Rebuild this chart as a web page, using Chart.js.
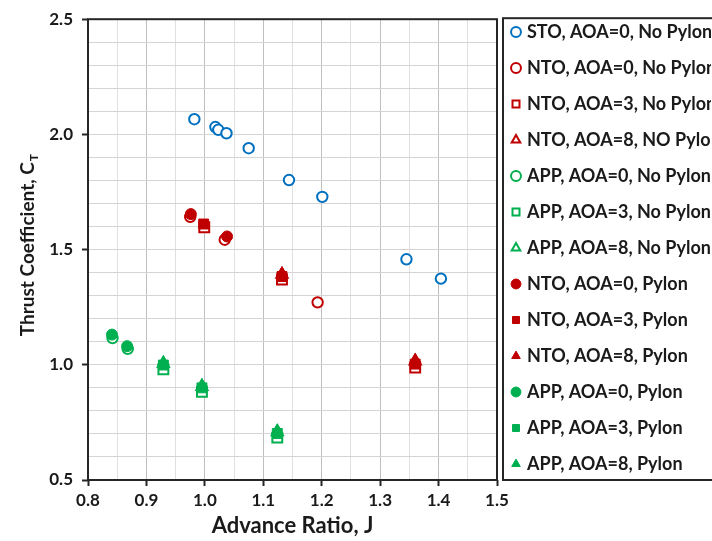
<!DOCTYPE html>
<html>
<head>
<meta charset="utf-8">
<script src="https://cdn.jsdelivr.net/npm/chart.js@4.4.1/dist/chart.umd.min.js"></script>
<style>
  html, body { margin: 0; padding: 0; background: #fff; overflow: hidden; }
  #wrap { width: 712px; height: 541px; position: relative; }
</style>
</head>
<body>
<div id="wrap"><canvas id="ct"></canvas></div>
<script>
// advance ratio J / thrust coefficient CT for each test condition
const stoJ = [0.982, 1.018, 1.023, 1.037, 1.075, 1.144, 1.201, 1.345, 1.404];
const stoCT = [2.066, 2.032, 2.020, 2.005, 1.940, 1.802, 1.729, 1.458, 1.374];

const ntoA0J = [0.975, 1.034, 1.193];
const ntoA0CT = [1.642, 1.543, 1.271];
const ntoA3J = [0.999, 1.132, 1.360];
const ntoA3CT = [1.597, 1.370, 0.988];
const ntoA8J = [1.132, 1.360];
const ntoA8CT = [1.392, 1.015];

const appA0J = [0.842, 0.868];
const appA0CT = [1.116, 1.069];
const appA3J = [0.929, 0.995, 1.124];
const appA3CT = [0.981, 0.883, 0.684];
const appA8J = [0.929, 0.995, 1.124];
const appA8CT = [1.005, 0.905, 0.708];

const ntoA0PJ = [0.976, 1.038];
const ntoA0PCT = [1.654, 1.557];
const ntoA3PJ = [0.998, 1.132, 1.360];
const ntoA3PCT = [1.611, 1.383, 1.003];
const ntoA8PJ = [1.132, 1.360];
const ntoA8PCT = [1.398, 1.022];

const appA0PJ = [0.841, 0.867];
const appA0PCT = [1.131, 1.081];
const appA3PJ = [0.929, 0.995, 1.124];
const appA3PCT = [0.999, 0.900, 0.702];
const appA8PJ = [0.929, 0.995, 1.124];
const appA8PCT = [1.012, 0.913, 0.716];

const xTicks = [0.8, 0.9, 1.0, 1.1, 1.2, 1.3, 1.4, 1.5];
const yTicks = [0.5, 1.0, 1.5, 2.0, 2.5];

const BLUE = '#0070C0', RED = '#C00000', GREEN = '#00B050';
const TXT = '#1a1a1a';
const FONT = 'Lato, "Open Sans", sans-serif';

function pts(js, cts) {
    return js.map((j, i) => ({x: j, y: cts[i]}))
}

function series(label, js, cts, color, style, filled) {
    const r = style == 'circle' ? (filled ? 5.5 : 5.2) : (style == 'rect' ? 7 : 6.5)
    return {
        label: label,
        data: pts(js, cts),
        pointStyle: style,
        pointRadius: r,
        pointHoverRadius: r,
        borderColor: color,
        backgroundColor: filled ? color : '#ffffff',
        borderWidth: filled ? 1 : 2,
        showLine: false
    }
}

const datasets = [
    series('STO, AOA=0, No Pylon', stoJ, stoCT, BLUE, 'circle', false),
    series('NTO, AOA=0, No Pylon', ntoA0J, ntoA0CT, RED, 'circle', false),
    series('NTO, AOA=3, No Pylon', ntoA3J, ntoA3CT, RED, 'rect', false),
    series('NTO, AOA=8, NO Pylon', ntoA8J, ntoA8CT, RED, 'triangle', false),
    series('APP, AOA=0, No Pylon', appA0J, appA0CT, GREEN, 'circle', false),
    series('APP, AOA=3, No Pylon', appA3J, appA3CT, GREEN, 'rect', false),
    series('APP, AOA=8, No Pylon', appA8J, appA8CT, GREEN, 'triangle', false),
    series('NTO, AOA=0, Pylon', ntoA0PJ, ntoA0PCT, RED, 'circle', true),
    series('NTO, AOA=3, Pylon', ntoA3PJ, ntoA3PCT, RED, 'rect', true),
    series('NTO, AOA=8, Pylon', ntoA8PJ, ntoA8PCT, RED, 'triangle', true),
    series('APP, AOA=0, Pylon', appA0PJ, appA0PCT, GREEN, 'circle', true),
    series('APP, AOA=3, Pylon', appA3PJ, appA3PCT, GREEN, 'rect', true),
    series('APP, AOA=8, Pylon', appA8PJ, appA8PCT, GREEN, 'triangle', true)
]
// later series sit on top of earlier ones
datasets.forEach((d, i) => { d.order = datasets.length - i })

const near = (v, list) => list.some(t => Math.abs(v - t) < 1e-6)

// frame round the plot area and round the legend
const frames = {
    id: 'frames',
    afterLayout(chart) {
        const lg = chart.legend
        lg.left -= 1; lg.right -= 1
        lg.top -= 10; lg.bottom -= 10
    },
    beforeDatasetsDraw(chart) {
        const {ctx, chartArea: a} = chart
        ctx.save()
        ctx.strokeStyle = '#262626'
        ctx.lineWidth = 2
        ctx.strokeRect(a.left, a.top, a.right - a.left, a.bottom - a.top)
        ctx.restore()
    },
    afterDraw(chart) {
        const {ctx, chartArea: a} = chart
        ctx.save()
        ctx.strokeStyle = '#262626'
        ctx.lineWidth = 2
        ctx.strokeRect(a.right + 6, a.top - 1, 300, a.bottom - a.top + 1)

        // y axis title with subscript
        const main = 'Thrust Coefficient, C', sub = 'T'
        ctx.font = 'bold 19px ' + FONT
        const w1 = ctx.measureText(main).width
        ctx.font = 'bold 12px ' + FONT
        const w2 = ctx.measureText(sub).width
        ctx.translate(27, (a.top + a.bottom) / 2 - 4)
        ctx.rotate(-Math.PI / 2)
        ctx.fillStyle = TXT
        ctx.textBaseline = 'alphabetic'
        ctx.textAlign = 'left'
        const x0 = -(w1 + w2) / 2
        ctx.font = 'bold 19px ' + FONT
        ctx.fillText(main, x0, 7)
        ctx.font = 'bold 12px ' + FONT
        ctx.fillText(sub, x0 + w1 + 1, 11)
        ctx.restore()
    }
}

new Chart(document.getElementById('ct'), {
    type: 'scatter',
    data: {datasets: datasets},
    plugins: [frames],
    options: {
        responsive: true,
        maintainAspectRatio: false,
        animation: false,
        layout: {padding: {top: 15, left: 0, right: 0, bottom: 0}},
        plugins: {
            tooltip: {enabled: false},
            legend: {
                position: 'right',
                align: 'start',
                maxWidth: 215,
                labels: {
                    usePointStyle: true,
                    boxWidth: 4,
                    boxHeight: 7,
                    padding: 18,
                    color: TXT,
                    font: {family: FONT, size: 18, weight: 'bold'},
                    sort: (a, b) => a.datasetIndex - b.datasetIndex
                }
            }
        },
        scales: {
            x: {
                type: 'linear',
                min: 0.8,
                max: 1.5,
                afterFit(scale) { scale.height = 61 },
                border: {display: false},
                grid: {
                    color: ctx => Math.abs(ctx.tick.value * 10 - Math.round(ctx.tick.value * 10)) < 1e-6 ? '#bfbfbf' : '#e0e0e0',
                    lineWidth: 1,
                    tickLength: 6,
                    tickWidth: 2,
                    tickColor: ctx => near(ctx.tick.value, xTicks) ? '#262626' : 'rgba(0,0,0,0)'
                },
                ticks: {
                    stepSize: 0.05,
                    autoSkip: false,
                    maxRotation: 0,
                    padding: 4,
                    color: TXT,
                    font: {family: FONT, size: 17, weight: 'bold'},
                    callback: v => near(v, xTicks) ? v.toFixed(1) : ''
                },
                title: {
                    display: true,
                    text: 'Advance Ratio, J',
                    color: TXT,
                    font: {family: FONT, size: 22, weight: 'bold'},
                    padding: {top: 0, bottom: 2}
                }
            },
            y: {
                type: 'linear',
                min: 0.5,
                max: 2.5,
                afterFit(scale) { scale.width = 88 },
                border: {display: false},
                grid: {
                    color: '#d4d4d4',
                    lineWidth: 1,
                    tickLength: 6,
                    tickWidth: 2,
                    tickColor: ctx => near(ctx.tick.value, yTicks) ? '#262626' : 'rgba(0,0,0,0)'
                },
                ticks: {
                    stepSize: 0.1,
                    autoSkip: false,
                    padding: 9,
                    color: TXT,
                    font: {family: FONT, size: 17, weight: 'bold'},
                    callback: v => near(v, yTicks) ? v.toFixed(1) : ''
                }
            }
        }
    }
})
</script>
</body>
</html>
